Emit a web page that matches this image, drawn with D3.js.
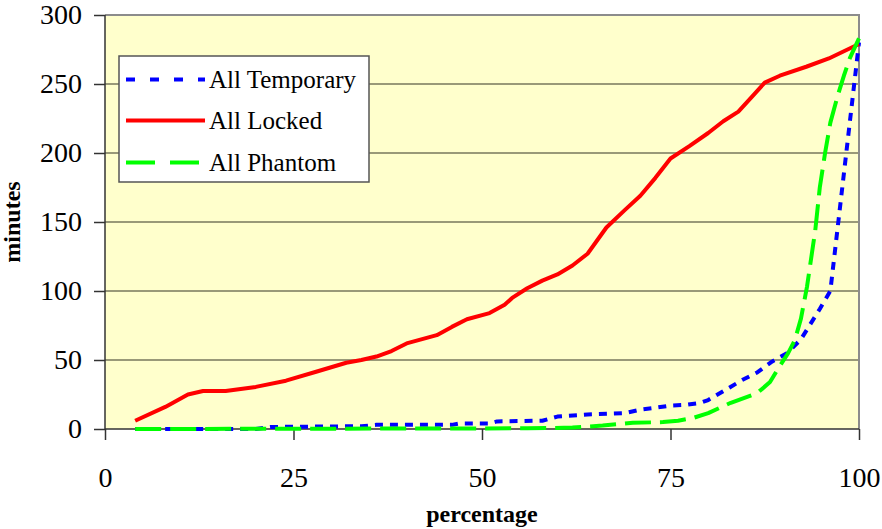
<!DOCTYPE html>
<html>
<head>
<meta charset="utf-8">
<script src="https://cdn.jsdelivr.net/npm/d3@7"></script>
<style>
  html, body { margin: 0; padding: 0; background: #ffffff; }
  svg { display: block; }
  svg text { font-family: "Liberation Serif", "Times New Roman", Times, "DejaVu Serif", serif; }
</style>
</head>
<body>
<svg id="chart" width="882" height="529"></svg>
<script>
// Cumulative wait-time curves: x = percentage of runs, y = minutes
const xTicks = [0, 25, 50, 75, 100];
const yTicks = [0, 50, 100, 150, 200, 250, 300];

const seriesNames = ["All Temporary", "All Locked", "All Phantom"];

const temporaryPct = [4, 20, 22, 34, 36, 46, 47, 51, 52, 58, 60, 64, 69, 71, 72.5, 75, 77, 79, 80, 82.5, 84.5, 86.5, 88.5, 90.5, 92.3, 94.8, 96.2, 100];
const temporaryMin = [0, 0, 1.5, 2, 3, 3, 4, 4, 5.5, 6, 9, 10.5, 11.5, 14, 15, 17, 17.5, 19, 21, 29, 35.5, 41, 49, 55, 65, 87, 100, 280];

const lockedPct = [4, 8, 11, 13, 16, 20, 24, 28, 32, 34, 36, 38, 40, 44, 46, 48, 51, 53, 54, 56, 58, 60, 62, 64, 66.5, 69, 71, 73, 75, 77.5, 80, 82, 84, 86, 87.5, 89.5, 93, 96, 100];
const lockedMin = [6, 16, 25, 27.5, 27.5, 30.5, 35, 41.5, 48, 50, 52.5, 56.5, 62, 68, 74, 79.5, 84, 90, 95, 102, 107.5, 112, 118.5, 127, 146, 159, 169, 182, 196, 205, 214.5, 223, 230, 242, 251, 256, 262.5, 268.5, 279];

const phantomPct = [4, 56, 62, 66, 70, 74, 76, 78, 80, 83, 86.5, 88.2, 89.3, 90.6, 91.5, 92.3, 93.1, 94.2, 94.8, 95.5, 96.2, 97.2, 98, 98.8, 100];
const phantomMin = [0, 0.5, 1, 2.5, 4.5, 5, 6, 8, 11.5, 19, 26, 34, 44, 55, 64.5, 80, 103, 144, 175, 200, 222, 242, 256, 269, 283];

const svg = d3.select("#chart");
const W = 882, H = 529;
const m = { left: 105, top: 15, right: 23, bottom: 100 };
const pw = W - m.left - m.right;   // 754
const ph = H - m.top - m.bottom;   // 414

const x = d3.scaleLinear().domain([0, 100]).range([m.left, m.left + pw]);
const y = d3.scaleLinear().domain([0, 300]).range([m.top + ph, m.top]);

// plot background
svg.append("rect")
  .attr("x", m.left).attr("y", m.top)
  .attr("width", pw).attr("height", ph)
  .attr("fill", "#ffffcc");

// horizontal gridlines
svg.append("g").selectAll("line")
  .data(yTicks.filter(v => v > 0 && v < 300))
  .join("line")
  .attr("x1", m.left).attr("x2", m.left + pw)
  .attr("y1", d => y(d)).attr("y2", d => y(d))
  .attr("stroke", "#77775c").attr("stroke-width", 1.5);

// top and right frame
svg.append("path")
  .attr("d", `M${m.left},${m.top}H${m.left + pw}V${m.top + ph}`)
  .attr("fill", "none").attr("stroke", "#8c8c8c").attr("stroke-width", 2);

// axes
const yAxis = d3.axisLeft(y).tickValues(yTicks).tickSize(11).tickPadding(12);
const xAxis = d3.axisBottom(x).tickValues(xTicks).tickSize(11).tickPadding(27);

const gy = svg.append("g").attr("transform", `translate(${m.left},0)`).call(yAxis);
const gx = svg.append("g").attr("transform", `translate(0,${m.top + ph})`).call(xAxis);

[gx, gy].forEach(g => {
  g.attr("font-family", null);
  g.select(".domain").attr("stroke", "#333").attr("stroke-width", 1.5);
  g.selectAll(".tick line").attr("stroke", "#333").attr("stroke-width", 1.5);
  g.selectAll(".tick text")
    .attr("font-size", 28).attr("fill", "#000");
});
gx.select(".domain").attr("d", `M${m.left},0H${m.left + pw}`);
gy.select(".domain").attr("d", `M0,${m.top + ph}V${m.top}`);

// series lines
const line = (xs, ys) => d3.line()
  .x((d, i) => x(xs[i]))
  .y((d, i) => y(ys[i]))
  .curve(d3.curveLinear)(ys);

const styles = [
  { pct: temporaryPct, min: temporaryMin, color: "#0000ff", dash: "8,7", legendDash: "9,15" },
  { pct: lockedPct, min: lockedMin, color: "#ff0000", dash: null, legendDash: null },
  { pct: phantomPct, min: phantomMin, color: "#00ff00", dash: "26,9", legendDash: "29,15" }
];

const gLines = svg.append("g");
styles.forEach(s => {
  gLines.append("path")
    .attr("d", line(s.pct, s.min))
    .attr("fill", "none")
    .attr("stroke", s.color)
    .attr("stroke-width", 4)
    .attr("stroke-linejoin", "round")
    .attr("stroke-dasharray", s.dash);
});

// legend
const lg = svg.append("g");
lg.append("rect")
  .attr("x", 119).attr("y", 56).attr("width", 250).attr("height", 126)
  .attr("fill", "#ffffff").attr("stroke", "#555").attr("stroke-width", 1.5);
const rowY = [79.5, 120.5, 162.5];
seriesNames.forEach((name, i) => {
  lg.append("line")
    .attr("x1", 126).attr("x2", 205)
    .attr("y1", rowY[i]).attr("y2", rowY[i])
    .attr("stroke", styles[i].color).attr("stroke-width", 4)
    .attr("stroke-dasharray", styles[i].legendDash);
  lg.append("text")
    .attr("x", 209).attr("y", rowY[i] + 8)
    .attr("font-size", 25).attr("fill", "#000")
    .text(name);
});

// axis titles
svg.append("text")
  .attr("transform", `translate(20,${m.top + ph / 2}) rotate(-90)`)
  .attr("text-anchor", "middle")
  .attr("font-size", 24).attr("font-weight", "bold")
  .text("minutes");

svg.append("text")
  .attr("x", m.left + pw / 2).attr("y", 522)
  .attr("text-anchor", "middle")
  .attr("font-size", 24).attr("font-weight", "bold")
  .text("percentage");
</script>
</body>
</html>
